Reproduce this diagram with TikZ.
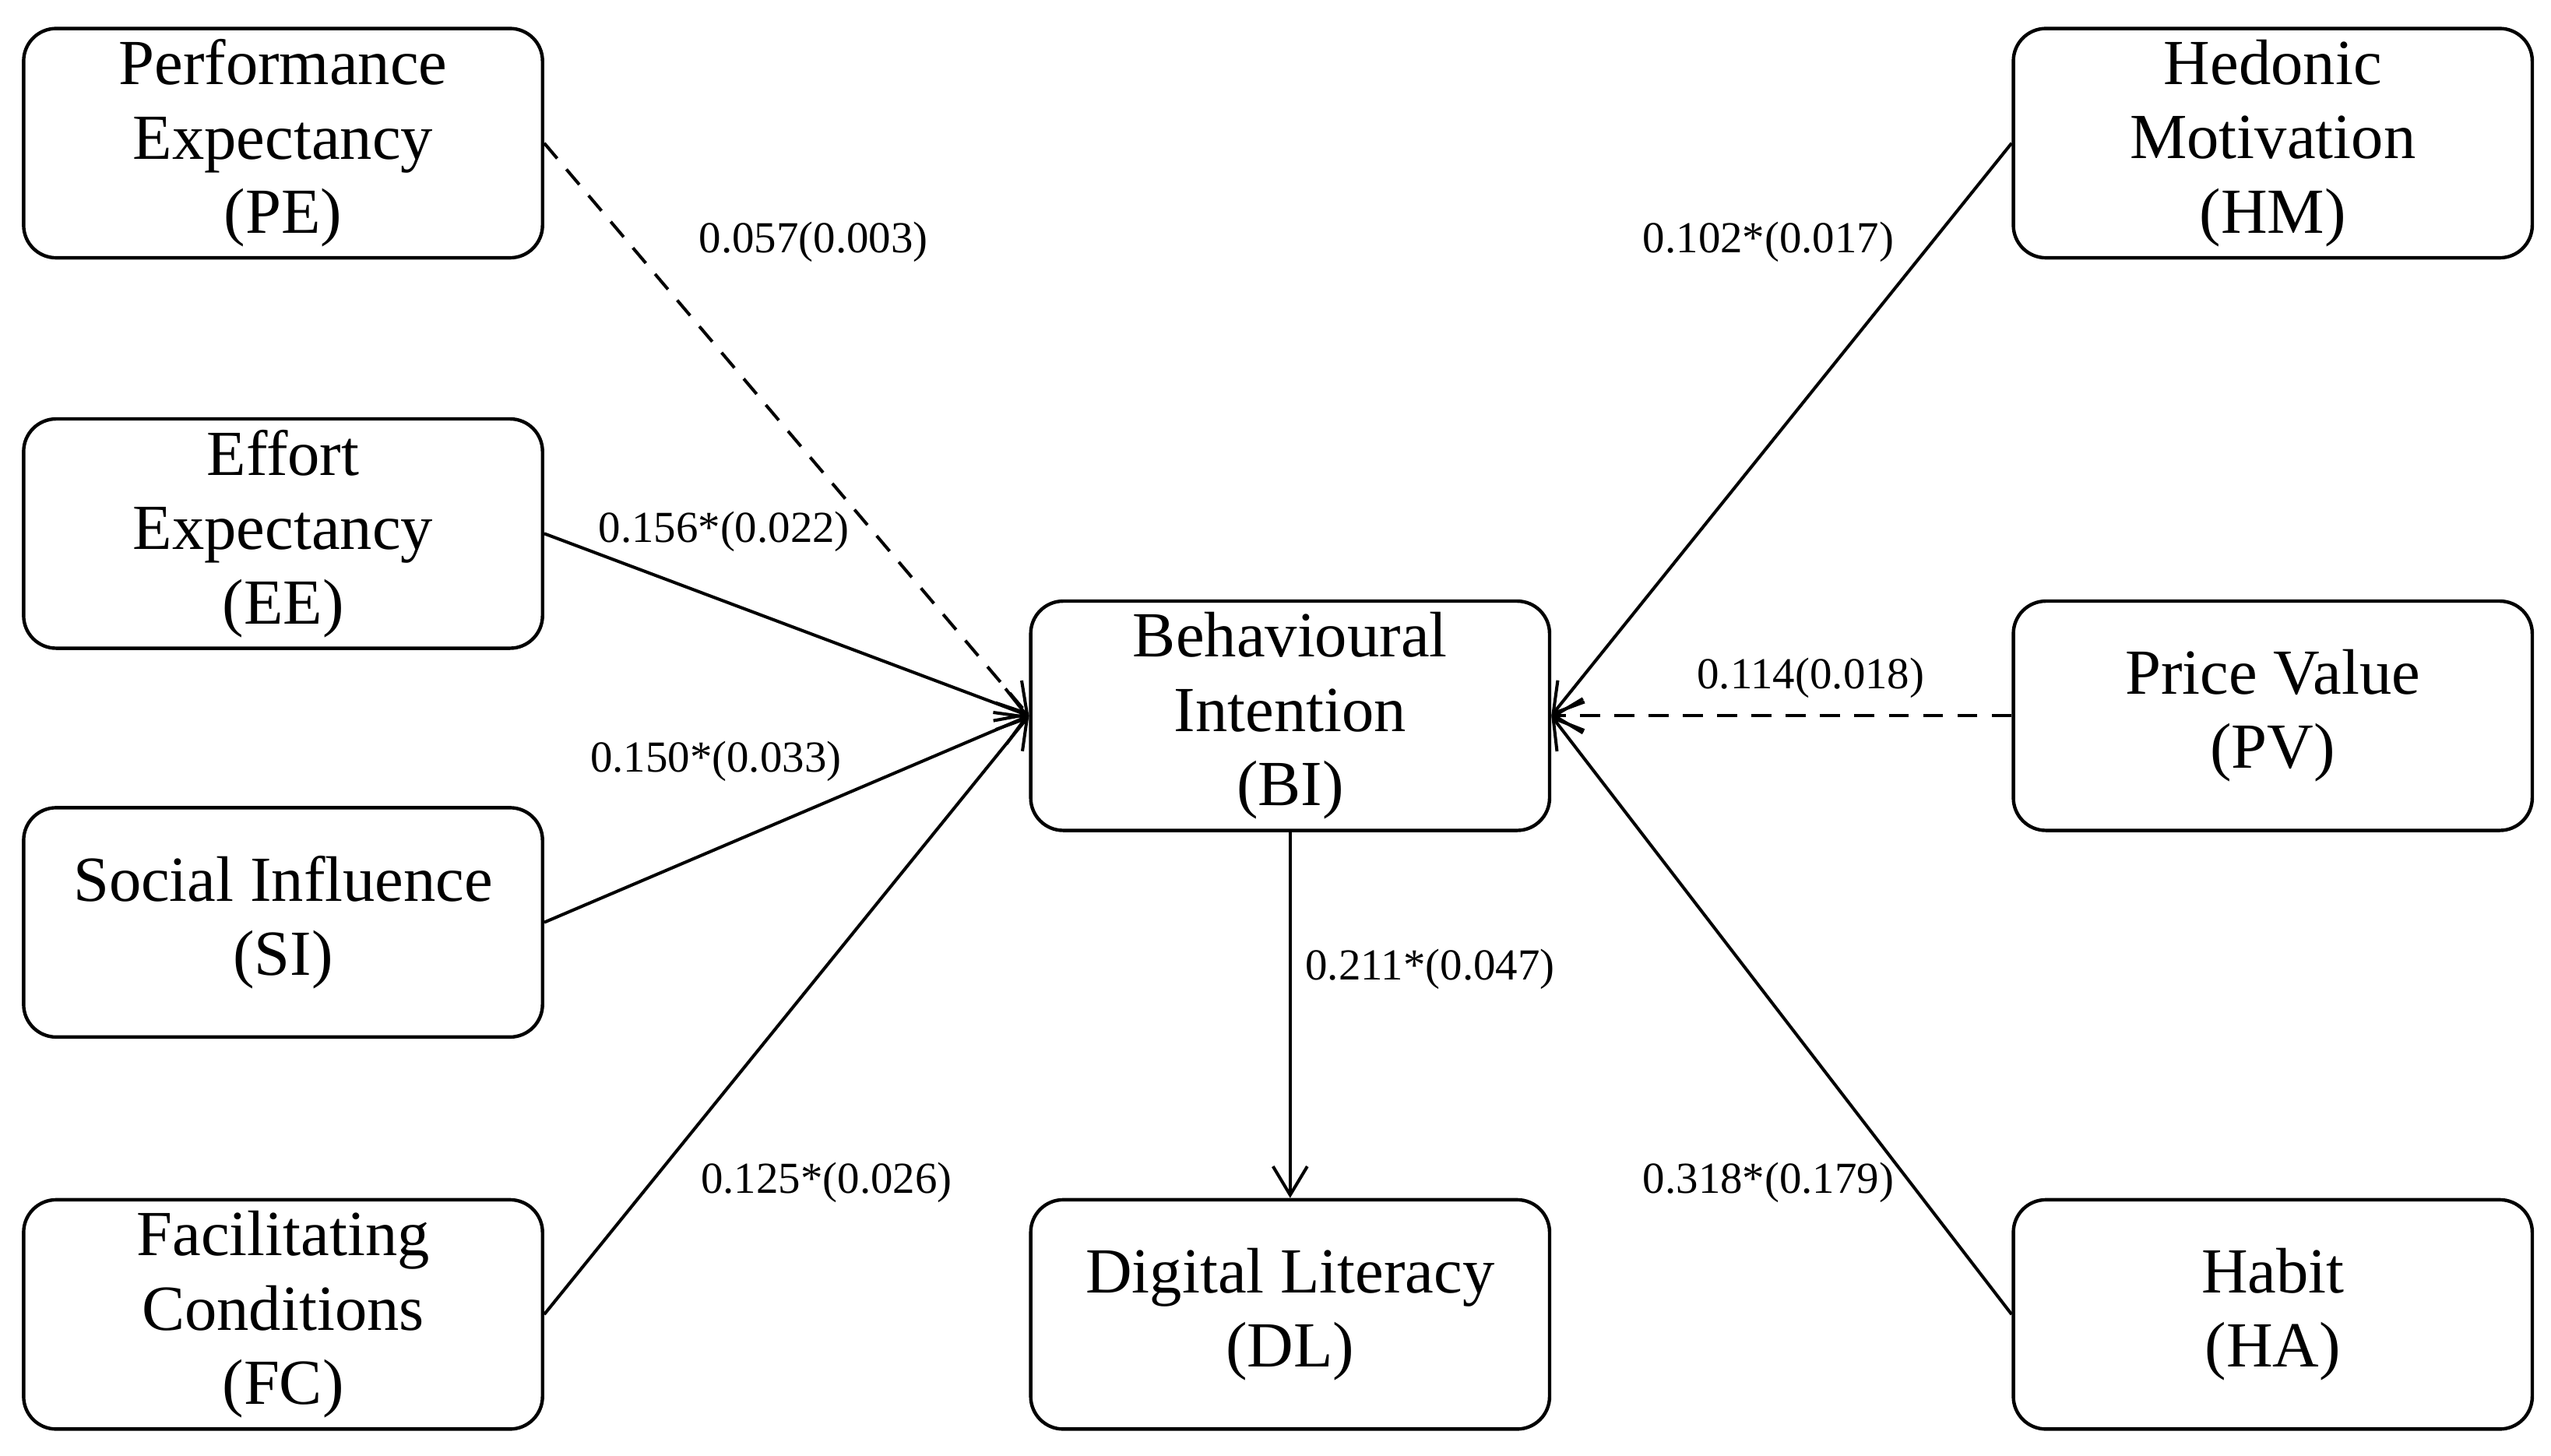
\documentclass[tikz,border=0pt]{standalone}
\usepackage{fontspec}
\setmainfont{Liberation Serif}
\usetikzlibrary{arrows.meta}
\begin{document}
\begin{tikzpicture}[x=0.02cm,y=-0.02cm,
 box/.style={draw,line width=1.2pt,rounded corners=0.4cm,minimum width=6.38cm,minimum height=2.82cm,align=center,font=\fontsize{22.5}{26}\selectfont,inner sep=0pt},
 lab/.style={font=\fontsize{15.5}{18}\selectfont,inner sep=1pt},
 arr/.style={line width=1.1pt,-{Straight Barb[length=10pt,width=12pt,line width=1.1pt]}},
 dsh/.style={dash pattern=on 7pt off 5pt}]
\useasboundingbox (0,0) rectangle (1568,895);
\node[box] (PE) at (174,88) {Performance\\Expectancy\\(PE)};
\node[box] (EE) at (174,328) {Effort\\Expectancy\\(EE)};
\node[box] (SI) at (174,567) {Social Influence\\(SI)};
\node[box] (FC) at (174,808) {Facilitating\\Conditions\\(FC)};
\node[box] (BI) at (793,440) {Behavioural\\Intention\\(BI)};
\node[box] (DL) at (793,808) {Digital Literacy\\(DL)};
\node[box] (HM) at (1397,88) {Hedonic\\Motivation\\(HM)};
\node[box] (PV) at (1397,440) {Price Value\\(PV)};
\node[box] (HA) at (1397,808) {Habit\\(HA)};
\draw[arr,dsh] (PE.east) -- (BI.west);
\draw[arr] (EE.east) -- (BI.west);
\draw[arr] (SI.east) -- (BI.west);
\draw[arr] (FC.east) -- (BI.west);
\draw[arr] (HM.west) -- (BI.east);
\draw[arr,dsh] (PV.west) -- (BI.east);
\draw[arr] (HA.west) -- (BI.east);
\draw[arr] (BI.south) -- (DL.north);
\node[lab] (l1) at (500,149) {0.057(0.003)};
\node[lab] (l2) at (445,327) {0.156*(0.022)};
\node[lab] (l3) at (440,468) {0.150*(0.033)};
\node[lab] (l4) at (508,727) {0.125*(0.026)};
\node[lab] (l5) at (1087,149) {0.102*(0.017)};
\node[lab] (l6) at (1113,417) {0.114(0.018)};
\node[lab] (l7) at (1087,727) {0.318*(0.179)};
\node[lab] (l8) at (879,596) {0.211*(0.047)};
\end{tikzpicture}
\end{document}
